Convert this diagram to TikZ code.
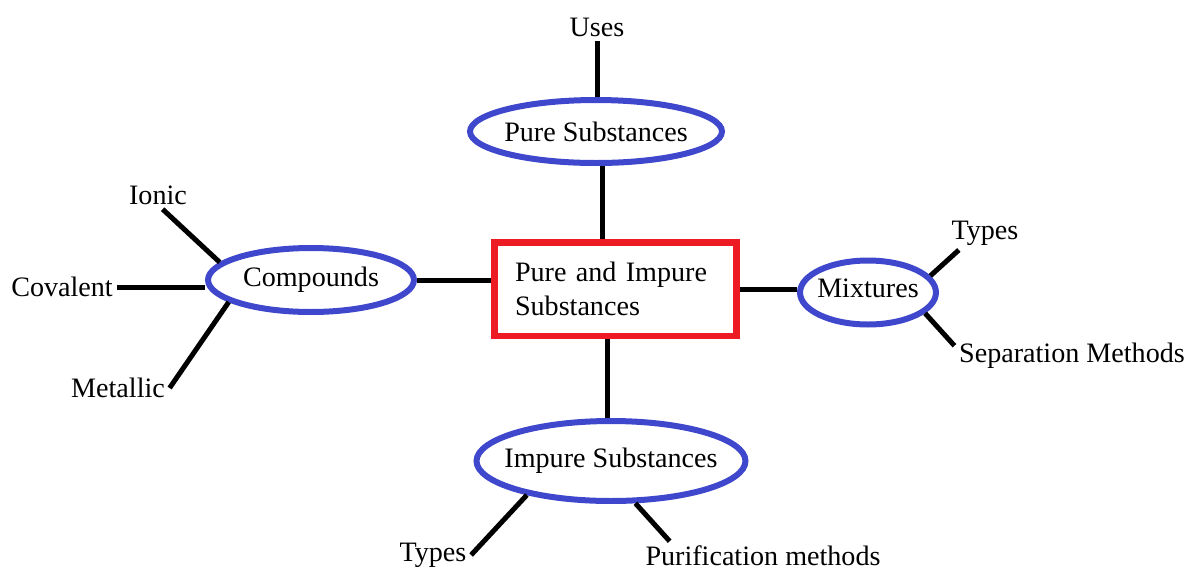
\documentclass[tikz,border=0pt]{standalone}
\usepackage{fontspec}
\setmainfont{Liberation Serif}
\usepackage{tikz}
\usetikzlibrary{shapes.geometric}
\usepackage{xcolor}
\definecolor{paintblue}{RGB}{63,72,204}
\definecolor{paintred}{RGB}{237,28,36}

\begin{document}
\begin{tikzpicture}[x=0.02cm, y=-0.02cm,
  every node/.style={font=\fontsize{16}{19.5}\selectfont},
  every label/.style={font=\fontsize{16}{19.5}\selectfont, inner sep=0pt},
  leaf/.style={inner sep=2.5pt},
  topic/.style={ellipse, draw=paintblue, line width=0.12cm, inner sep=0pt},
  link/.style={line width=0.1cm}]
\useasboundingbox (0,0) rectangle (1188,566);
%centre box
\node[draw=paintred, line width=0.14cm, minimum width=4.86cm, minimum height=1.88cm, inner xsep=0.42cm, text width=4.02cm, align=left] (main) at (615.5,289) {Pure and Impure\\Substances};
%the four topics (text as label, so the ellipse keeps its size)
\node[topic, minimum width=5.04cm, minimum height=1.26cm, label=center:Pure Substances] (pure) at (596,131.5) {};
\node[topic, minimum width=4.12cm, minimum height=1.28cm, label=center:Compounds] (cmp) at (311,280) {};
\node[topic, minimum width=2.72cm, minimum height=1.28cm, label={[yshift=0.08cm]center:Mixtures}] (mix) at (868,292.5) {};
\node[topic, minimum width=5.38cm, minimum height=1.6cm, label=center:Impure Substances] (imp) at (611,461) {};
%leaves
\node[leaf] (uses) at (597,27) {Uses};
\node[leaf] (ionic) at (158,195) {Ionic};
\node[leaf] (cov) at (62,287) {Covalent};
\node[leaf] (met) at (118,388) {Metallic};
\node[leaf] (mtypes) at (985,233) {Types};
\node[leaf] (sep) at (1072,356) {Separation Methods};
\node[leaf] (itypes) at (433,555) {Types};
\node[leaf] (pur) at (763,556) {Purification methods};

%spokes from the centre
\draw[link] (pure.-80) -- (pure.-80 |- main.north);
\draw[link] (cmp.east) -- (cmp.east -| main.west);
\draw[link] (main.east) -- (main.east -| mix.west);
\draw[link] (imp.95 |- main.south) -- (imp.95);
%outer spokes
\draw[link] (uses.south) -- (uses.south |- pure.north);
\draw[link] (ionic.-72) -- (cmp.169);
\draw[link] (cov.east) -- (cov.east -| cmp.west);
\draw[link] (met.east) -- (cmp.195);
\draw[link] (mtypes.213) -- (mix.15);
\draw[link] (sep.175) -- (mix.-20);
\draw[link] (itypes.east) -- (imp.202);
\draw[link] (pur.171) -- (imp.-60);
\end{tikzpicture}
\end{document}
